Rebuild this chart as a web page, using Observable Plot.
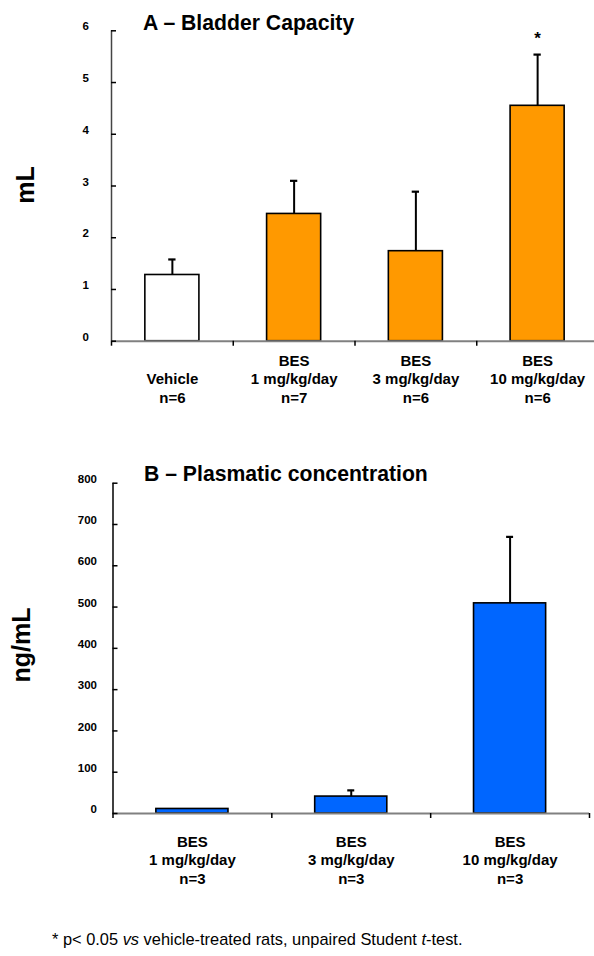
<!DOCTYPE html>
<html><head><meta charset="utf-8">
<script src="https://cdn.jsdelivr.net/npm/d3@7"></script>
<script src="https://cdn.jsdelivr.net/npm/@observablehq/plot@0.6"></script>
<style>
body{margin:0;background:#fff;}
#wrap{position:relative;width:594px;height:956px;overflow:hidden;font-family:"Liberation Sans",Arial,Helvetica,sans-serif;color:#000;}
.abs{position:absolute;white-space:nowrap;line-height:1;}
.title{font-weight:bold;font-size:21.2px;}
.ylab{font-weight:bold;font-size:25px;transform:translate(-50%,-50%) rotate(-90deg);}
.foot{font-size:16.4px;}
#wrap svg{position:absolute;left:0;overflow:visible;}
</style></head><body><div id="wrap"></div>
<script>
// ---- Panel A: Bladder capacity (mL) ----
const capCategories = ["Vehicle\nn=6", "BES\n1 mg/kg/day\nn=7", "BES\n3 mg/kg/day\nn=6", "BES\n10 mg/kg/day\nn=6"];
const capMean = [1.28, 2.46, 1.74, 4.55];
const capSEM = [0.30, 0.64, 1.15, 0.99];
const capFill = ["#ffffff", "#ff9900", "#ff9900", "#ff9900"];
const capSig = ["", "", "", "*"];
const capTicks = [0, 1, 2, 3, 4, 5, 6];

// ---- Panel B: Plasmatic concentration (ng/mL) ----
const plasCategories = ["BES\n1 mg/kg/day\nn=3", "BES\n3 mg/kg/day\nn=3", "BES\n10 mg/kg/day\nn=3"];
const plasMean = [11, 41, 509];
const plasSEM = [0, 15, 161];
const plasFill = ["#0066ff", "#0066ff", "#0066ff"];
const plasSig = ["", "", ""];
const plasTicks = [0, 100, 200, 300, 400, 500, 600, 700, 800];

const FONT = '"Liberation Sans", Arial, Helvetica, sans-serif';

function panel(o) {
  const n = o.cats.length;
  const rows = o.cats.map((c, i) => ({i, cat: c, mean: o.mean[i], sem: o.sem[i], fill: o.fill[i], sig: o.sig[i]}));
  const inset = o.barInset; // fraction of a category slot
  const cap = o.capHalf;    // fraction of a category slot
  const yMax = o.ticks[o.ticks.length - 1];
  return Plot.plot({
    width: 594,
    height: o.height,
    marginLeft: o.left,
    marginRight: 594 - o.right,
    marginTop: o.top,
    marginBottom: o.height - o.bottom,
    style: {fontFamily: FONT, background: "transparent", overflow: "visible"},
    x: {type: "linear", domain: [0, n], range: [o.left, o.right]},
    y: {type: "linear", domain: [0, yMax], range: [o.bottom, o.top]},
    marks: [
      // error bars
      Plot.ruleX(rows.filter(d => d.sem > 0), {x: d => d.i + 0.5, y1: "mean", y2: d => d.mean + d.sem, stroke: "#000", strokeWidth: 2}),
      Plot.ruleY(rows.filter(d => d.sem > 0), {x1: d => d.i + 0.5 - cap, x2: d => d.i + 0.5 + cap, y: d => d.mean + d.sem, stroke: "#000", strokeWidth: 2.2}),
      // bars
      Plot.rectY(rows, {x1: d => d.i + inset, x2: d => d.i + 1 - inset, y1: 0, y2: "mean", fill: "fill", stroke: "#000", strokeWidth: 1.6}),
      // axis lines
      Plot.ruleY([0], {x1: 0, x2: n, stroke: "#808080", strokeWidth: 2}),
      Plot.ruleX([0], {y1: 0, y2: yMax, stroke: o.yAxisColor, strokeWidth: 1.5}),
      // y ticks (inward) and labels
      Plot.axisY({ticks: o.ticks, tickSize: 5, dx: 5, tickFormat: () => "", stroke: "#000", strokeWidth: 1.5, label: null}),
      Plot.axisY({ticks: o.ticks, tickSize: 0, tickPadding: o.yPad, tickFormat: d => String(d), fontSize: o.yFont, fontWeight: "bold", dy: -4, label: null}),
      // x boundary ticks
      Plot.axisX({ticks: d3.range(n + 1), tickSize: 5, tickFormat: () => "", stroke: "#000", strokeWidth: 1.5, label: null}),
      // category labels
      Plot.text(rows, {x: d => d.i + 0.5, y: 0, text: "cat", dy: o.labDy, lineAnchor: "bottom", lineHeight: 1.24, fontSize: 15, fontWeight: "bold", fill: "#000"}),
      // significance
      Plot.text(rows.filter(d => d.sig), {x: d => d.i + 0.5, y: d => d.mean + d.sem, text: "sig", dy: -16, fontSize: 17, fontWeight: "bold", fill: "#000"})
    ]
  });
}

const wrap = document.getElementById("wrap");

const svgA = panel({cats: capCategories, mean: capMean, sem: capSEM, fill: capFill, sig: capSig, ticks: capTicks,
  height: 420, left: 111, right: 598, top: 30.3, bottom: 340.7, barInset: 0.278, capHalf: 0.03,
  yAxisColor: "#444", yPad: 22.7, yFont: 11.5, labDy: 61.5});
svgA.style.top = "0px";
wrap.appendChild(svgA);

const svgB = panel({cats: plasCategories, mean: plasMean, sem: plasSEM, fill: plasFill, sig: plasSig, ticks: plasTicks,
  height: 460, left: 112.5, right: 589, top: 482.7 - 450, bottom: 813 - 450, barInset: 0.273, capHalf: 0.022,
  yAxisColor: "#000", yPad: 16, yFont: 11.5, labDy: 70.5});
svgB.style.top = "450px";
wrap.appendChild(svgB);

function addDiv(cls, html, style) {
  const d = document.createElement("div");
  d.className = "abs " + cls;
  d.innerHTML = html;
  Object.assign(d.style, style);
  wrap.appendChild(d);
}
addDiv("title", "A – Bladder Capacity", {left: "143px", top: "11.5px"});
addDiv("title", "B – Plasmatic concentration", {left: "144px", top: "463px"});
addDiv("ylab", "mL", {left: "25px", top: "185px"});
addDiv("ylab", "ng/mL", {left: "21px", top: "645px"});
addDiv("foot", "* p&lt; 0.05 <i>vs</i> vehicle-treated rats, unpaired Student <i>t</i>-test.", {left: "52px", top: "931px"});
</script>
</body></html>
